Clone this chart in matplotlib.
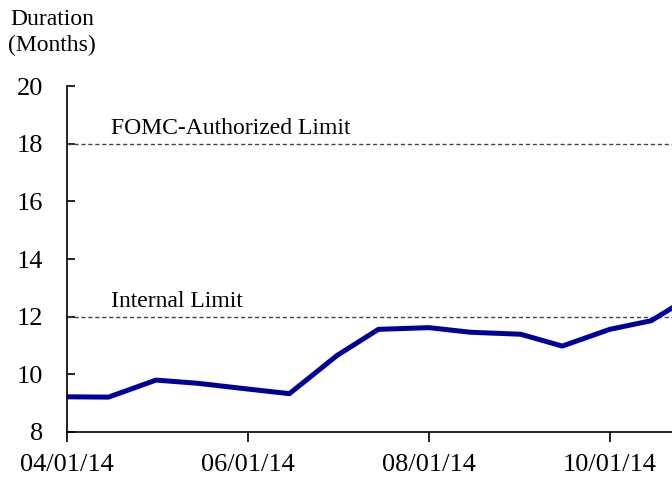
import matplotlib
matplotlib.use("Agg")
import matplotlib.pyplot as plt
import matplotlib.dates as mdates
import numpy as np
from datetime import datetime

dates = ["2014-04-01", "2014-04-15", "2014-05-01", "2014-05-15", "2014-06-01", "2014-06-15",
         "2014-07-01", "2014-07-15", "2014-08-01", "2014-08-15", "2014-09-01", "2014-09-15",
         "2014-10-01", "2014-10-15", "2014-10-22"]
duration = [9.22, 9.21, 9.80, 9.69, 9.49, 9.33, 10.65, 11.56, 11.62, 11.46, 11.39, 10.98,
            11.56, 11.86, 12.3]
fomc_limit = 18
internal_limit = 12
tick_dates = ["2014-04-01", "2014-06-01", "2014-08-01", "2014-10-01"]

plt.rcParams['font.family'] = ['Liberation Serif', 'DejaVu Serif']

x = [datetime.strptime(d, "%Y-%m-%d") for d in dates]
xt = [datetime.strptime(d, "%Y-%m-%d") for d in tick_dates]

fig = plt.figure(figsize=(6.72, 4.78), dpi=100)
ax = fig.add_axes([67/672, 46/478, 1 - 67/672, (432-86)/478])

ax.axhline(fomc_limit, color='#444444', lw=1.0, ls=(0, (3, 2)))
ax.axhline(internal_limit, color='#444444', lw=1.0, ls=(0, (3, 2)))
ax.plot(x, duration, color='#000099', lw=3.6, solid_joinstyle='round', clip_on=True)

ax.set_xlim(x[0], x[-1])
ax.set_ylim(8, 20)
ax.set_yticks([8, 10, 12, 14, 16, 18, 20])
ax.set_xticks(xt)
ax.xaxis.set_major_formatter(mdates.DateFormatter('%m/%d/%y'))

for s in ['top', 'right']:
    ax.spines[s].set_visible(False)
ax.spines['left'].set_linewidth(1.2)
ax.spines['bottom'].set_linewidth(1.2)
ax.tick_params(axis='y', direction='in', length=6, width=1.2, labelsize=19, pad=17)
ax.tick_params(axis='x', direction='out', length=7, width=1.2, labelsize=19, pad=9)

ax.text(datetime(2014, 4, 16), 18.15, "FOMC-Authorized Limit", fontsize=17, ha='left', va='bottom')
ax.text(datetime(2014, 4, 16), 12.15, "Internal Limit", fontsize=17, ha='left', va='bottom')

fig.text(52/672, 1 - 9/478, "Duration\n(Months)", fontsize=17, ha='center', va='top', linespacing=1.3)

fig.savefig("out.png", dpi=100)
